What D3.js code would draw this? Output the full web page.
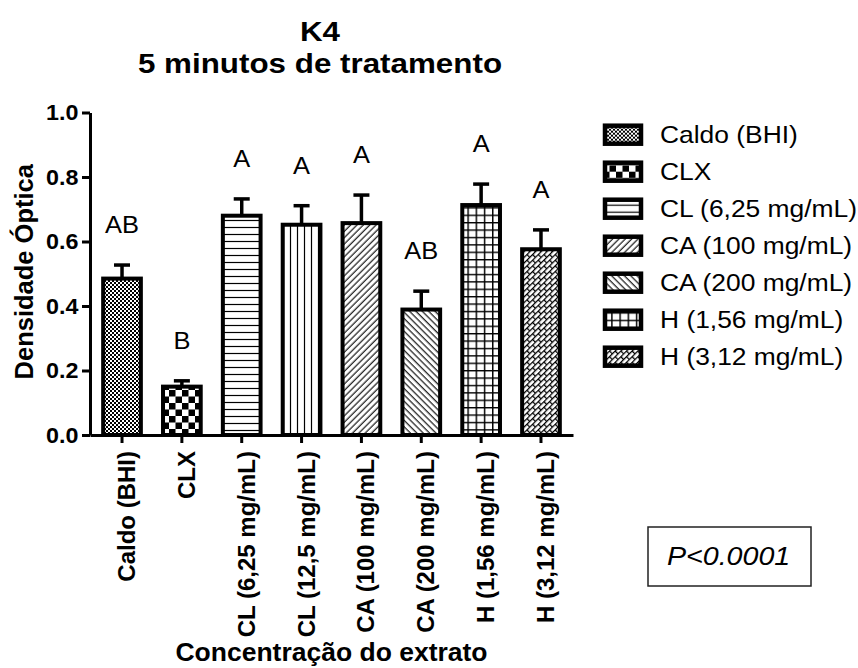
<!DOCTYPE html>
<html>
<head>
<meta charset="utf-8">
<script src="https://cdn.jsdelivr.net/npm/d3@7"></script>
<style>
  body { margin: 0; background: #fff; }
  text { font-family: "Liberation Sans", Arial, sans-serif; fill: #000; }
</style>
</head>
<body>
<div id="chart"></div>
<script>
// chart data
const categories = ['Caldo (BHI)', 'CLX', 'CL (6,25 mg/mL)', 'CL (12,5 mg/mL)',
  'CA (100 mg/mL)', 'CA (200 mg/mL)', 'H (1,56 mg/mL)', 'H (3,12 mg/mL)'];
const means = [0.485, 0.150, 0.680, 0.652, 0.657, 0.389, 0.713, 0.576];
const errors = [0.042, 0.018, 0.052, 0.059, 0.087, 0.057, 0.065, 0.060];
const groupLetters = ['AB', 'B', 'A', 'A', 'A', 'AB', 'A', 'A'];
const patternIds = ['fine', 'checker', 'hline', 'vline', 'diagUp', 'diagDown', 'grid', 'brick'];
const legendCategories = ['Caldo (BHI)', 'CLX', 'CL (6,25 mg/mL)', 'CA (100 mg/mL)',
  'CA (200 mg/mL)', 'H (1,56 mg/mL)', 'H (3,12 mg/mL)'];
const yTicks = [0, 0.2, 0.4, 0.6, 0.8, 1.0];
const titleLines = ['K4', '5 minutos de tratamento'];
const yTitle = 'Densidade Óptica';
const xTitle = 'Concentração do extrato';
const pValue = 'P<0.0001';

const width = 858,
  height = 668;
const plot = {
  left: 90, right: 573, top: 112.5, bottom: 435,
};

const svg = d3.select('#chart')
  .append('svg')
  .attr('width', width)
  .attr('height', height);

// hatch patterns
const defs = svg.append('defs');

const makePattern = (id, w, h, transform) => {
  const p = defs.append('pattern')
    .attr('id', id)
    .attr('patternUnits', 'userSpaceOnUse')
    .attr('width', w)
    .attr('height', h);
  if (transform) p.attr('patternTransform', transform);
  p.append('rect').attr('width', w).attr('height', h).attr('fill', '#fff');
  return p;
};

let p = makePattern('fine', 4, 4);
p.append('rect').attr('width', 2).attr('height', 2).attr('fill', '#000');
p.append('rect').attr('x', 2).attr('y', 2).attr('width', 2).attr('height', 2).attr('fill', '#000');

p = makePattern('checker', 13, 13);
p.append('rect').attr('width', 6.5).attr('height', 6.5).attr('fill', '#000');
p.append('rect').attr('x', 6.5).attr('y', 6.5).attr('width', 6.5).attr('height', 6.5).attr('fill', '#000');

p = makePattern('hline', 10, 7);
p.append('line').attr('x1', 0).attr('x2', 10).attr('y1', 3.5).attr('y2', 3.5)
  .attr('stroke', '#000').attr('stroke-width', 1.2);

p = makePattern('vline', 7, 10);
p.append('line').attr('y1', 0).attr('y2', 10).attr('x1', 3.5).attr('x2', 3.5)
  .attr('stroke', '#000').attr('stroke-width', 1.2);

p = makePattern('diagUp', 4.5, 10, 'rotate(45)');
p.append('line').attr('y1', 0).attr('y2', 10).attr('x1', 2).attr('x2', 2)
  .attr('stroke', '#000').attr('stroke-width', 1.1);

p = makePattern('diagDown', 4.5, 10, 'rotate(-45)');
p.append('line').attr('y1', 0).attr('y2', 10).attr('x1', 2).attr('x2', 2)
  .attr('stroke', '#000').attr('stroke-width', 1.1);

p = makePattern('grid', 8.2, 7.4);
p.append('path').attr('d', 'M0,0.7H8.2M0.7,0V7.4')
  .attr('stroke', '#000').attr('stroke-width', 1.5).attr('fill', 'none');

p = makePattern('brick', 8, 8, 'rotate(-45)');
p.append('path').attr('d', 'M0,0.6H8M0,4.6H8M0.6,0.6V4.6M4.6,4.6V8')
  .attr('stroke', '#000').attr('stroke-width', 1.3).attr('fill', 'none');

// scales
const x = d3.scaleBand()
  .domain(categories)
  .range([plot.left, plot.right])
  .paddingInner(0.37)
  .paddingOuter(0.22);

const y = d3.scaleLinear()
  .domain([0, 1])
  .range([plot.bottom, plot.top]);

// stretched horizontal text helper
const addText = (parent, str, tx, ty, opts) => parent.append('text')
  .attr('transform', `translate(${tx},${ty}) scale(${opts.sx || 1},1)`)
  .attr('text-anchor', opts.anchor || 'start')
  .attr('font-size', opts.size)
  .attr('font-weight', opts.weight || 'normal')
  .attr('font-style', opts.style || 'normal')
  .text(str);

// bars
const bars = svg.append('g').attr('class', 'bars');
bars.selectAll('rect')
  .data(categories)
  .join('rect')
  .attr('x', (d) => x(d))
  .attr('y', (d, i) => y(means[i]))
  .attr('width', x.bandwidth())
  .attr('height', (d, i) => y(0) - y(means[i]))
  .attr('fill', (d, i) => `url(#${patternIds[i]})`)
  .attr('stroke', '#000')
  .attr('stroke-width', 4);

// error bars (upper only)
const errs = svg.append('g').attr('class', 'errors')
  .attr('stroke', '#000')
  .attr('stroke-width', 3.5);
categories.forEach((c, i) => {
  const cx = x(c) + x.bandwidth() / 2;
  errs.append('line')
    .attr('x1', cx).attr('x2', cx)
    .attr('y1', y(means[i])).attr('y2', y(means[i] + errors[i]));
  errs.append('line')
    .attr('x1', cx - 8).attr('x2', cx + 8)
    .attr('y1', y(means[i] + errors[i])).attr('y2', y(means[i] + errors[i]));
});

// group letters
const letters = svg.append('g').attr('class', 'letters');
categories.forEach((c, i) => {
  addText(letters, groupLetters[i], x(c) + x.bandwidth() / 2,
    y(means[i] + errors[i]) - 32, { size: 24, sx: 1.06, anchor: 'middle' });
});

// y axis
const yAxis = svg.append('g')
  .attr('transform', `translate(${plot.left},0)`)
  .call(d3.axisLeft(y).tickValues(yTicks).tickFormat(d3.format('.1f'))
    .tickSize(8).tickSizeOuter(0).tickPadding(3));
yAxis.select('.domain').attr('stroke-width', 3);
yAxis.selectAll('.tick line').attr('stroke-width', 3);
yAxis.selectAll('.tick text')
  .attr('font-size', 22)
  .attr('font-weight', 'bold')
  .attr('font-family', '"Liberation Sans", Arial, sans-serif')
  .attr('transform', 'scale(1.06,1)');

// x axis
const xAxis = svg.append('g')
  .attr('transform', `translate(0,${plot.bottom})`)
  .call(d3.axisBottom(x).tickSize(8).tickSizeOuter(0));
xAxis.select('.domain').attr('stroke-width', 3);
xAxis.selectAll('.tick line').attr('stroke-width', 3);
xAxis.selectAll('.tick text')
  .attr('font-size', 24)
  .attr('font-weight', 'bold')
  .attr('font-family', '"Liberation Sans", Arial, sans-serif')
  .attr('text-anchor', 'end')
  .attr('transform', 'rotate(-90)')
  .attr('x', -16)
  .attr('y', 13)
  .attr('dy', null);

// titles
const titles = svg.append('g').attr('class', 'titles');
addText(titles, titleLines[0], 320, 41, { size: 28, sx: 1.12, anchor: 'middle', weight: 'bold' });
addText(titles, titleLines[1], 320, 73, { size: 28, sx: 1.12, anchor: 'middle', weight: 'bold' });
addText(titles, xTitle, (plot.left + plot.right) / 2, 661,
  { size: 25, sx: 1.06, anchor: 'middle', weight: 'bold' });
titles.append('text')
  .attr('transform', `translate(33,${(plot.top + plot.bottom) / 2 - 2}) rotate(-90)`)
  .attr('text-anchor', 'middle')
  .attr('font-size', 25.5)
  .attr('font-weight', 'bold')
  .text(yTitle);

// legend
const legend = svg.append('g')
  .attr('class', 'legend')
  .attr('transform', 'translate(603,134.7)');
legendCategories.forEach((c, i) => {
  const row = legend.append('g').attr('transform', `translate(0,${i * 37})`);
  row.append('rect')
    .attr('x', 2).attr('y', -9)
    .attr('width', 36).attr('height', 18)
    .attr('fill', `url(#${patternIds[categories.indexOf(c)]})`)
    .attr('stroke', '#000')
    .attr('stroke-width', 4.5);
  addText(row, c, 57, 8.5, { size: 24, sx: 1.1 });
});

// p-value box
const pBox = svg.append('g').attr('class', 'pbox');
pBox.append('rect')
  .attr('x', 648).attr('y', 527)
  .attr('width', 163).attr('height', 59)
  .attr('fill', '#fff')
  .attr('stroke', '#222')
  .attr('stroke-width', 1.5);
addText(pBox, pValue, 667, 565, { size: 26, sx: 1.1, style: 'italic' });
</script>
</body>
</html>
